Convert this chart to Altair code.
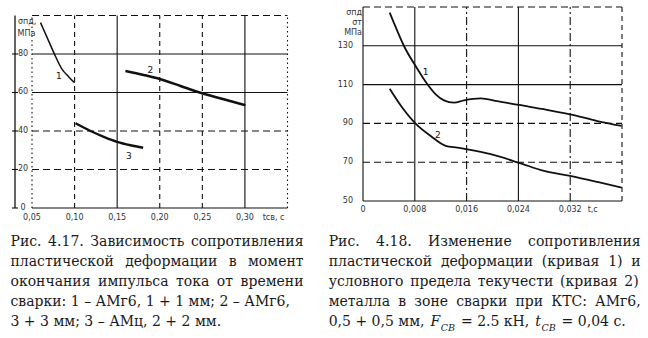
import glob
import struct

import altair as alt
import pandas as pd

# ---------------- Fig. 4.17 (left) data ----------------
L1_T = [0.060, 0.0678, 0.0756, 0.0854, 0.0932, 0.0999]
L1_S = [96.3, 88.5, 80.7, 72.0, 68.1, 65.1]
L2_T = [0.1597, 0.1812, 0.2008, 0.2243, 0.2478, 0.2751, 0.3006]
L2_S = [71.2, 69.1, 66.9, 63.4, 59.9, 56.5, 53.4]
L3_T = [0.1011, 0.1187, 0.1343, 0.1500, 0.1656, 0.1805]
L3_S = [44.0, 40.0, 37.0, 34.4, 32.6, 31.3]
L_CURVE_NAMES = ["1", "2", "3"]
L_NAME_T = [0.0815, 0.189, 0.1636]
L_NAME_S = [68.6, 71.5, 27.0]
L_X_TICKS = [0.05, 0.10, 0.15, 0.20, 0.25, 0.30]
L_X_LABELS = ["0,05", "0,10", "0,15", "0,20", "0,25", "0,30"]
L_Y_TICKS = [0, 20, 40, 60, 80]
L_Y_LABELS = ["0", "20", "40", "60", "80"]
L_GRID_Y_SOLID = [0, 60, 80]
L_GRID_Y_DASH = [20, 40, 100]
L_GRID_X_SOLID = [0.15, 0.30]
L_GRID_X_DASH = [0.10, 0.20, 0.25]
L_GRID_X_DOT = [0.05, 0.35]

# ---------------- Fig. 4.18 (right) data ----------------
R1_T = [0.00412, 0.00531, 0.00633, 0.00829, 0.00995, 0.01123, 0.01251, 0.01405,
        0.0156, 0.01818, 0.02076, 0.02409, 0.02795, 0.03197, 0.0362, 0.03995]
R1_S = [147.1, 137.6, 129.9, 118.7, 110.2, 105.0, 101.9, 100.7,
        101.9, 102.9, 101.5, 99.5, 97.3, 94.7, 91.2, 88.7]
R2_T = [0.00412, 0.00608, 0.00825, 0.01046, 0.01277, 0.01458, 0.01612,
        0.01972, 0.02409, 0.02795, 0.03197, 0.0362, 0.03995]
R2_S = [107.9, 98.1, 89.5, 83.5, 78.4, 77.5, 76.6, 74.1, 69.7, 65.5, 62.9, 59.8, 56.9]
R_CURVE_NAMES = ["1", "2"]
R_NAME_T = [0.00968, 0.01158]
R_NAME_S = [116.5, 84.0]
R_X_TICKS = [0, 0.008, 0.016, 0.024, 0.032]
R_X_LABELS = ["0", "0,008", "0,016", "0,024", "0,032"]
R_Y_TICKS = [50, 70, 90, 110, 130]
R_Y_LABELS = ["50", "70", "90", "110", "130"]
R_GRID_Y_SOLID = [50, 110, 130]
R_GRID_Y_DASH = [70, 90, 150]
R_GRID_X_SOLID = [0, 0.008, 0.024]
R_GRID_X_DASHDOT = [0.016, 0.032]
R_GRID_X_DASH = [0.04]

# ---------------- caption texts ----------------
LEFT_CAPTION = [
    "Рис. 4.17. Зависимость сопротивления",
    "пластической деформации в момент",
    "окончания импульса тока от времени",
    "сварки: 1 – АМг6, 1 + 1 мм; 2 – АМг6,",
    "3 + 3 мм; 3 – АМц, 2 + 2 мм.",
]
LEFT_JUSTIFIED = [True, True, True, False, False]
RIGHT_CAPTION = [
    "Рис. 4.18. Изменение сопротивления",
    "пластической деформации (кривая 1) и",
    "условного предела текучести (кривая 2)",
    "металла в зоне сварки при КТС: АМг6,",
]
# last line of right caption: (text, kind) ; kind n=normal, i=italic, s=subscript
RIGHT_LAST = [("0,5 + 0,5 мм,", "n"), ("F", "i"), ("СВ", "s"), ("= 2.5 кН,", "n"),
              ("t", "i"), ("СВ", "s"), ("= 0,04 с.", "n")]

# ---------------- layout ----------------
INK = "#111111"
AX_FONT = "DejaVu Sans"
CAP_FONT = "DejaVu Serif"
CAP_FS = 14
SUB_FS = 9.5
L_W, L_H = 255.5, 201
R_W, R_H = 259, 194
L_XDOM, L_YDOM = [0.05, 0.35], [0, 104.4]
R_XDOM, R_YDOM = [0, 0.04], [50, 150]
L_ORIG = (31.5, 6.0)
R_ORIG = (362.3, 6.0)
ONE = pd.DataFrame({"a": [0]})


# ---------- font metrics (for justified caption text) ----------
def fallback_cw(c):
    if c == " " or c in ".,;:":
        return 0.318
    if c.isdigit():
        return 0.636
    if c in "+=":
        return 0.838
    if c == "–":
        return 0.5
    if c in "()":
        return 0.39
    if c in "шщжыюМ":
        return 0.9
    if c == "м":
        return 0.75
    if c.isupper():
        return 0.72
    return 0.61


def load_metrics(name):
    try:
        paths = glob.glob("/usr/share/fonts/**/" + name, recursive=True) + \
            glob.glob("/usr/local/share/fonts/**/" + name, recursive=True)
        data = open(paths[0], "rb").read()
        ntab = struct.unpack(">H", data[4:6])[0]
        tabs = {}
        for i in range(ntab):
            tag, _, off, ln = struct.unpack(">4sIII", data[12 + 16 * i:28 + 16 * i])
            tabs[tag.decode("latin1")] = off
        upem = struct.unpack(">H", data[tabs["head"] + 18:tabs["head"] + 20])[0]
        nhm = struct.unpack(">H", data[tabs["hhea"] + 34:tabs["hhea"] + 36])[0]
        ho = tabs["hmtx"]
        adv = [struct.unpack(">H", data[ho + 4 * i:ho + 4 * i + 2])[0] for i in range(nhm)]
        co = tabs["cmap"]
        n = struct.unpack(">H", data[co + 2:co + 4])[0]
        sub = None
        for i in range(n):
            pid, eid, so = struct.unpack(">HHI", data[co + 4 + 8 * i:co + 12 + 8 * i])
            fmt = struct.unpack(">H", data[co + so:co + so + 2])[0]
            if fmt == 4 and pid in (0, 3):
                sub = co + so
                break
        sx2 = struct.unpack(">H", data[sub + 6:sub + 8])[0]
        segc = sx2 // 2
        ends = struct.unpack(">%dH" % segc, data[sub + 14:sub + 14 + sx2])
        starts = struct.unpack(">%dH" % segc, data[sub + 16 + sx2:sub + 16 + 2 * sx2])
        deltas = struct.unpack(">%dh" % segc, data[sub + 16 + 2 * sx2:sub + 16 + 3 * sx2])
        rpos = sub + 16 + 3 * sx2
        roffs = struct.unpack(">%dH" % segc, data[rpos:rpos + sx2])

        def gid(ch):
            c = ord(ch)
            for i in range(segc):
                if ends[i] >= c:
                    if starts[i] > c:
                        return 0
                    if roffs[i] == 0:
                        return (c + deltas[i]) & 0xFFFF
                    a = rpos + 2 * i + roffs[i] + 2 * (c - starts[i])
                    g = struct.unpack(">H", data[a:a + 2])[0]
                    return 0 if g == 0 else (g + deltas[i]) & 0xFFFF
            return 0

        def width(s, size):
            return sum(adv[min(gid(ch), nhm - 1)] for ch in s) / upem * size
        width("Тест", 10)
        return width
    except Exception:
        return lambda s, size: sum(fallback_cw(c) for c in s) * size


W_REG = load_metrics("DejaVuSerif.ttf")
W_ITA = load_metrics("DejaVuSerif-Italic.ttf")


def sc(dom):
    return alt.Scale(domain=dom, nice=False, zero=False)


def curve(ts, ss, xd, yd, w):
    df = pd.DataFrame({"t": ts, "s": ss})
    return alt.Chart(df).mark_line(color=INK, strokeWidth=w, interpolate="monotone").encode(
        x=alt.X("t:Q", scale=sc(xd), axis=None),
        y=alt.Y("s:Q", scale=sc(yd), axis=None))


def mk_rule(dash, w=1.1):
    kw = dict(color=INK, strokeWidth=w)
    if dash:
        kw["strokeDash"] = dash
    return kw


def hgrid(vals, xd, yd, width, dash=None):
    df = pd.DataFrame({"v": vals})
    return alt.Chart(df).mark_rule(**mk_rule(dash)).encode(
        y=alt.Y("v:Q", scale=sc(yd), axis=None),
        x=alt.value(0), x2=alt.value(width))


def vgrid(vals, xd, yd, y0, y1, dash=None):
    df = pd.DataFrame({"v": vals, "y0": [y0] * len(vals), "y1": [y1] * len(vals)})
    return alt.Chart(df).mark_rule(**mk_rule(dash)).encode(
        x=alt.X("v:Q", scale=sc(xd), axis=None),
        y=alt.Y("y0:Q", scale=sc(yd), axis=None),
        y2="y1:Q")


def names(ts, ss, labels, xd, yd):
    df = pd.DataFrame({"t": ts, "s": ss, "lab": labels})
    return alt.Chart(df).mark_text(font=AX_FONT, fontSize=9, color=INK).encode(
        x=alt.X("t:Q", scale=sc(xd), axis=None),
        y=alt.Y("s:Q", scale=sc(yd), axis=None),
        text="lab:N")


def xlabels(ticks, labels, xd, ypix):
    df = pd.DataFrame({"t": ticks, "lab": labels})
    return alt.Chart(df).mark_text(font=AX_FONT, fontSize=8, color="#333333",
                                   baseline="middle").encode(
        x=alt.X("t:Q", scale=sc(xd), axis=None),
        y=alt.value(ypix), text="lab:N")


def ylabels(ticks, labels, yd, xpix, align):
    df = pd.DataFrame({"v": ticks, "lab": labels})
    return alt.Chart(df).mark_text(font=AX_FONT, fontSize=8, color="#333333",
                                   align=align, baseline="middle").encode(
        y=alt.Y("v:Q", scale=sc(yd), axis=None),
        x=alt.value(xpix), text="lab:N")


def ptext(txt, xpix, ypix, align="left", size=8, font=AX_FONT, style="normal",
          baseline="middle", color="#333333"):
    return alt.Chart(ONE).mark_text(
        text=txt, font=font, fontSize=size, fontStyle=style, color=color,
        align=align, baseline=baseline).encode(x=alt.value(xpix), y=alt.value(ypix))


def justify(text, x0, x1, y):
    """Left edges of each word so that the line spans x0..x1."""
    words = text.split()
    if x1 is None or len(words) == 1:
        return [(x0, y, text, "n")]
    ws = [W_REG(w, CAP_FS) for w in words]
    gap = (x1 - x0 - sum(ws)) / (len(words) - 1)
    out, cur = [], x0
    for w, wd in zip(words, ws):
        out.append((cur, y, w, "n"))
        cur += wd + gap
    return out


def caption_layers(items):
    layers = []
    for px, py, w, k in items:
        if k == "n":
            layers.append(ptext(w, px, py, "left", CAP_FS, CAP_FONT, "normal", "alphabetic", "#1a1a1a"))
        elif k == "i":
            layers.append(ptext(w, px, py, "left", CAP_FS, CAP_FONT, "italic", "alphabetic", "#1a1a1a"))
        else:
            layers.append(ptext(w, px, py + 5, "left", SUB_FS, CAP_FONT, "italic", "alphabetic", "#1a1a1a"))
    return layers


# ---------------- caption items ----------------
L_BASE = [245, 265, 285, 305, 324.5]
L_RIGHT = [303, 303, 303, 287, 212]
left_items = []
for line, yb, xr, j in zip(LEFT_CAPTION, L_BASE, L_RIGHT, LEFT_JUSTIFIED):
    left_items += justify(line, 10 - L_ORIG[0], (xr - L_ORIG[0]) if j else None,
                          yb - L_ORIG[1])

R_BASE = [245, 265, 285, 305]
R_RIGHT = [640, 640, 638, 640]
right_items = []
for line, yb, xr in zip(RIGHT_CAPTION, R_BASE, R_RIGHT):
    right_items += justify(line, 328 - R_ORIG[0], xr - R_ORIG[0], yb - R_ORIG[1])

# last line of right caption laid out piece by piece
yb5 = 325 - R_ORIG[1]
ox = R_ORIG[0]


def piece_w(t, k):
    if k == "n":
        return W_REG(t, CAP_FS)
    if k == "i":
        return W_ITA(t, CAP_FS)
    return W_ITA(t, SUB_FS)


sp = W_REG(" ", CAP_FS)
gaps_after = [sp, 0.5, sp, sp, 0.5, sp, 0]
natural = sum(piece_w(t, k) for t, k in RIGHT_LAST) + sum(gaps_after)
extra = max(-2.0, (625 - 328 - natural) / 4)
cur = 328.0
for (t, k), g in zip(RIGHT_LAST, gaps_after):
    right_items.append((cur - ox, yb5, t, k))
    cur += piece_w(t, k) + g + (extra if g > 1 else 0)

# ---------------- left panel ----------------
l_axis_df = pd.DataFrame({"y0": [0], "y1": [100]})
l_tick_df = pd.DataFrame({"v": L_Y_TICKS})
left = alt.layer(
    hgrid(L_GRID_Y_SOLID, L_XDOM, L_YDOM, L_W),
    hgrid(L_GRID_Y_DASH, L_XDOM, L_YDOM, L_W, [7, 4]),
    vgrid(L_GRID_X_SOLID, L_XDOM, L_YDOM, 0, 100),
    vgrid(L_GRID_X_DASH, L_XDOM, L_YDOM, 0, 100, [5, 4]),
    vgrid(L_GRID_X_DOT, L_XDOM, L_YDOM, 0, 100, [1.5, 3]),
    alt.Chart(l_axis_df).mark_rule(color=INK, strokeWidth=1.3).encode(
        y=alt.Y("y0:Q", scale=sc(L_YDOM), axis=None), y2="y1:Q", x=alt.value(-17)),
    alt.Chart(l_tick_df).mark_rule(color=INK, strokeWidth=1.1).encode(
        y=alt.Y("v:Q", scale=sc(L_YDOM), axis=None), x=alt.value(-20), x2=alt.value(-14)),
    ylabels(L_Y_TICKS, L_Y_LABELS, L_YDOM, -9, "center"),
    xlabels(L_X_TICKS, L_X_LABELS, L_XDOM, L_H + 9.5),
    ptext("tсв, с", 241.5, L_H + 9.5, "center"),
    ptext("σпд,", -14, 15),
    ptext("МПа", -14.5, 26.5),
    curve(L1_T, L1_S, L_XDOM, L_YDOM, 1.5),
    curve(L2_T, L2_S, L_XDOM, L_YDOM, 2.6),
    curve(L3_T, L3_S, L_XDOM, L_YDOM, 2.4),
    names(L_NAME_T, L_NAME_S, L_CURVE_NAMES, L_XDOM, L_YDOM),
    *caption_layers(left_items),
).properties(width=L_W, height=L_H)

# ---------------- right panel ----------------
right = alt.layer(
    hgrid(R_GRID_Y_SOLID, R_XDOM, R_YDOM, R_W),
    hgrid(R_GRID_Y_DASH, R_XDOM, R_YDOM, R_W, [7, 4]),
    vgrid(R_GRID_X_SOLID, R_XDOM, R_YDOM, 50, 150),
    vgrid(R_GRID_X_DASHDOT, R_XDOM, R_YDOM, 50, 150, [8, 3, 2, 3]),
    vgrid(R_GRID_X_DASH, R_XDOM, R_YDOM, 50, 150, [5, 4]),
    ylabels(R_Y_TICKS, R_Y_LABELS, R_YDOM, -10, "right"),
    xlabels(R_X_TICKS, R_X_LABELS, R_XDOM, R_H + 9),
    ptext("t,c", 229.7, R_H + 9, "center"),
    ptext("σпд", -1, 5.5, "right"),
    ptext("σт", -1, 15.5, "right"),
    ptext("МПа", -1, 25.5, "right"),
    curve(R1_T, R1_S, R_XDOM, R_YDOM, 1.8),
    curve(R2_T, R2_S, R_XDOM, R_YDOM, 1.8),
    names(R_NAME_T, R_NAME_S, R_CURVE_NAMES, R_XDOM, R_YDOM),
    *caption_layers(right_items),
).properties(width=R_W, height=R_H)

chart = alt.hconcat(left, right, spacing=75, bounds="flush").properties(
    padding={"left": 10, "top": 6, "right": 0, "bottom": 0},
    background="white",
).configure_view(stroke=None)

chart.save("out.html", embed_options={"renderer": "svg", "actions": False})
